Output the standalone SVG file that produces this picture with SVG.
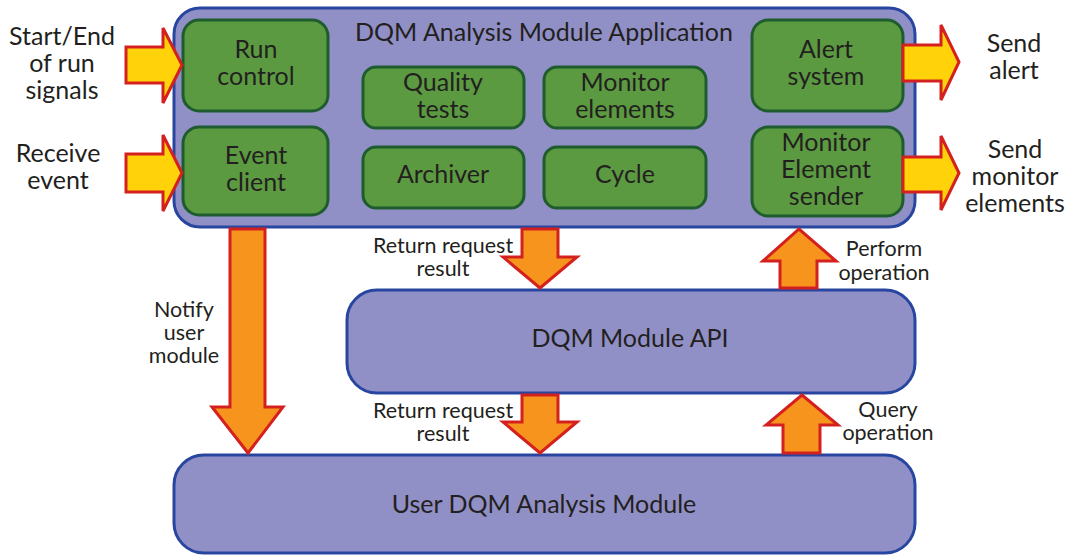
<svg xmlns="http://www.w3.org/2000/svg" width="1073" height="555" viewBox="0 0 1073 555">
<style>
text{font-family:Lato,"Open Sans","Liberation Sans",sans-serif;fill:#231f20;text-anchor:middle}
.big{font-size:25px}
.lbl{font-size:21.5px}
.blue{fill:#9090c6;stroke:#2846a0;stroke-width:3}
.green{fill:#5b9a40;stroke:#1e5c2e;stroke-width:3}
.yel{fill:#ffd20a;stroke:#d4201e;stroke-width:3;stroke-linejoin:miter}
.org{fill:#f7941d;stroke:#d4201e;stroke-width:3;stroke-linejoin:miter}
</style>
<rect width="1073" height="555" fill="#fff"/>
<g id="app">
<rect class="blue" x="174" y="8" width="741" height="219" rx="26"/>
<text class="big" x="544" y="41">DQM Analysis Module Application</text>
</g>
<g id="run-control"><rect class="green" x="183" y="20" width="145" height="91" rx="16"/><text class="big" x="256" y="58">Run</text><text class="big" x="256" y="85">control</text></g>
<g id="event-client"><rect class="green" x="183" y="127" width="145" height="88" rx="16"/><text class="big" x="256" y="164">Event</text><text class="big" x="256" y="191">client</text></g>
<g id="quality-tests"><rect class="green" x="363" y="67" width="161" height="61" rx="13"/><text class="big" x="443" y="91">Quality</text><text class="big" x="443" y="118">tests</text></g>
<g id="monitor-elements"><rect class="green" x="544" y="67" width="162" height="61" rx="13"/><text class="big" x="625" y="91">Monitor</text><text class="big" x="625" y="118">elements</text></g>
<g id="archiver"><rect class="green" x="363" y="147" width="161" height="61" rx="13"/><text class="big" x="443" y="183">Archiver</text></g>
<g id="cycle"><rect class="green" x="544" y="147" width="162" height="61" rx="13"/><text class="big" x="625" y="183">Cycle</text></g>
<g id="alert-system"><rect class="green" x="752" y="20" width="151" height="91" rx="16"/><text class="big" x="826" y="58">Alert</text><text class="big" x="826" y="85">system</text></g>
<g id="me-sender"><rect class="green" x="752" y="127" width="151" height="89" rx="16"/><text class="big" x="826" y="151">Monitor</text><text class="big" x="826" y="178">Element</text><text class="big" x="826" y="205">sender</text></g>
<g id="api"><rect class="blue" x="347" y="290" width="568" height="103" rx="30"/><text class="big" x="630" y="347">DQM Module API</text></g>
<g id="user"><rect class="blue" x="174" y="455" width="741" height="98" rx="30"/><text class="big" x="544" y="513">User DQM Analysis Module</text></g>
<g id="connectors">
<path class="yel" d="M126,47 H163 V28 L182,65 L163,103 V83 H126 Z"/>
<path class="yel" d="M126,154 H163 V135 L182,173 L163,211 V192 H126 Z"/>
<path class="yel" d="M903,45 H941 V25 L959,62 L941,100 V81 H903 Z"/>
<path class="yel" d="M903,157 H941 V136 L959,173 L941,210 V192 H903 Z"/>
<path class="org" d="M230,229 H265 V407 H283 L248,453 L212,407 H230 Z"/>
<path class="org" d="M522,229 H558 V257 H577 L540,288 L503,257 H522 Z"/>
<path class="org" d="M522,395 H558 V422 H577 L540,453 L503,422 H522 Z"/>
<path class="org" d="M780,288 V261 H763 L799,229 L836,261 H817 V288 Z"/>
<path class="org" d="M783,453 V425 H766 L802,395 L838,425 H820 V453 Z"/>
</g>
<g id="labels">
<text class="big" x="62" y="45">Start/End</text><text class="big" x="62" y="72">of run</text><text class="big" x="62" y="99">signals</text>
<text class="big" x="58" y="162">Receive</text><text class="big" x="58" y="189">event</text>
<text class="big" x="1014" y="52">Send</text><text class="big" x="1014" y="79">alert</text>
<text class="big" x="1015" y="158">Send</text><text class="big" x="1015" y="185">monitor</text><text class="big" x="1015" y="212">elements</text>
<text class="lbl" x="184" y="317">Notify</text><text class="lbl" x="184" y="340">user</text><text class="lbl" x="184" y="363">module</text>
<text class="lbl" x="443" y="253">Return request</text><text class="lbl" x="443" y="276">result</text>
<text class="lbl" x="443" y="418">Return request</text><text class="lbl" x="443" y="441">result</text>
<text class="lbl" x="884" y="256">Perform</text><text class="lbl" x="884" y="280">operation</text>
<text class="lbl" x="888" y="417">Query</text><text class="lbl" x="888" y="440">operation</text>
</g>
</svg>
